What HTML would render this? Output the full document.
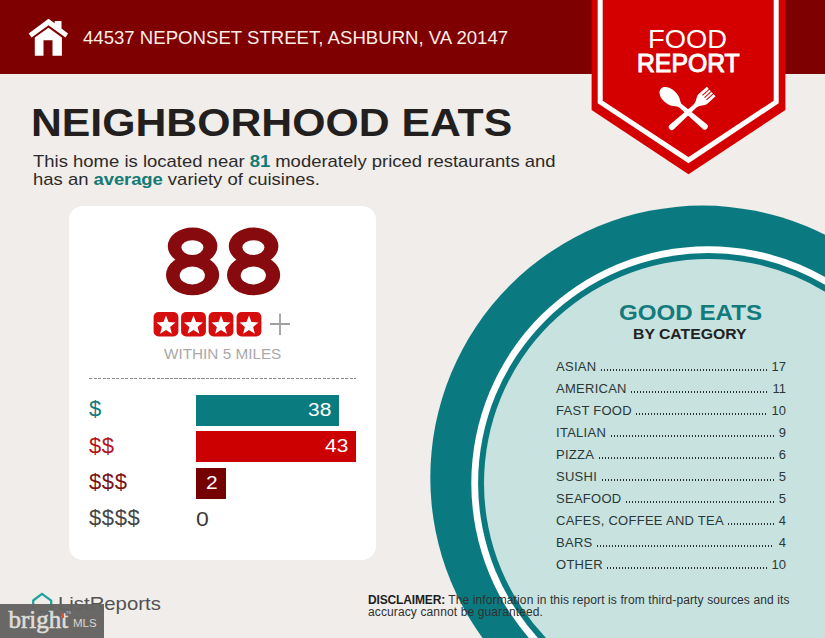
<!DOCTYPE html>
<html><head><meta charset="utf-8">
<style>
html,body{margin:0;padding:0;}
body{width:825px;height:638px;overflow:hidden;position:relative;background:#f0edea;font-family:"Liberation Sans",sans-serif;}
.abs{position:absolute;white-space:nowrap;}
#hdr{position:absolute;left:0;top:0;width:825px;height:74px;background:#7f0000;}
#addr{left:83px;top:27px;font-size:18.6px;color:#fbeee6;transform-origin:0 0;}
#title{left:31px;top:101px;font-size:38.5px;font-weight:bold;color:#231f1e;transform:scaleX(1.11);transform-origin:0 0;}
#sub{left:33px;top:152.5px;font-size:17px;line-height:18.2px;color:#2d2a29;transform:scaleX(1.087);transform-origin:0 0;}
#sub b{color:#137a75;letter-spacing:-0.1px;}
#card{position:absolute;left:69px;top:206px;width:307px;height:354px;background:#fff;border-radius:14px;}
#big{left:163px;top:208px;font-size:95px;font-weight:bold;color:#8a0a0d;transform:scaleX(1.13);transform-origin:0 0;}
#within{left:163.5px;top:345px;font-size:15px;color:#a9a9a9;transform:scaleX(1.02);transform-origin:0 0;}
#dash{position:absolute;left:89px;top:377.5px;width:267px;height:1.6px;background:repeating-linear-gradient(90deg,#8c8c8c 0,#8c8c8c 3px,transparent 3px,transparent 4.5px);}
.bar{position:absolute;left:196px;height:31px;}
.bnum{position:absolute;right:8px;top:4px;font-size:19.2px;color:#fff;transform:scaleX(1.09);transform-origin:100% 0;}
.dl{position:absolute;left:89px;font-size:22px;letter-spacing:0.6px;}
#good{left:619px;top:300px;font-size:22px;font-weight:bold;color:#137b7c;transform:scaleX(1.097);transform-origin:0 0;}
#bycat{left:633px;top:326.2px;font-size:14.5px;font-weight:bold;color:#222;transform:scaleX(1.087);transform-origin:0 0;}
.row{position:absolute;left:556px;width:230px;height:16px;font-size:13px;color:#2b3838;display:flex;align-items:flex-end;}
.row .lab{white-space:nowrap;letter-spacing:0.27px;}
.row .dots{flex:1;margin:0 5px 3.3px 4.5px;height:1.5px;background:repeating-linear-gradient(90deg,#263232 0,#263232 1.4px,transparent 1.4px,transparent 3px);}
.row .val{white-space:nowrap;}
#disc{left:368px;top:593.6px;font-size:12px;line-height:12.2px;color:#303030;letter-spacing:0.12px;}
#disc b{letter-spacing:-0.15px;color:#1e1e1e;}
#lr{left:58px;top:593px;font-size:19px;color:#525252;transform:scaleX(1.07);transform-origin:0 0;}
#bright{position:absolute;left:0;top:604px;width:104px;height:34px;background:rgba(100,99,97,0.97);}
</style></head>
<body>
<div id="hdr"></div>
<!-- house icon -->
<svg class="abs" style="left:0;top:0" width="120" height="74" viewBox="0 0 120 74">
  <polygon fill="#fff" points="28.7,33.5 48.5,18.7 54.7,23.3 54.7,20.9 61.5,20.9 61.5,28.4 68,33.5 65.5,37.4 48.5,25.2 31.6,37.4"/>
  <polygon fill="#fff" points="34.8,37.6 48.5,27.7 61.9,37.4 61.9,55.8 52.5,55.8 52.5,40.3 43.5,40.3 43.5,55.8 34.8,55.8"/>
</svg>
<div id="addr" class="abs">44537 NEPONSET STREET, ASHBURN, VA 20147</div>

<!-- banner -->
<svg class="abs" style="left:0;top:0" width="825" height="200" viewBox="0 0 825 200">
  <polygon points="591.6,0 785.4,0 785.4,110 688.5,174.3 591.6,110" fill="#d40000"/>
  <polyline points="600.2,0 600.2,102 688.5,160.2 776.2,102 776.2,0" fill="none" stroke="#fff" stroke-width="5"/>
</svg>
<div class="abs" style="left:648px;top:24.5px;font-size:25px;color:#fff;transform:scaleX(1.095);transform-origin:0 0;">FOOD</div>
<div id="rep" class="abs" style="left:636.5px;top:48.5px;font-size:25px;color:#fff;-webkit-text-stroke:1px #fff;transform:scaleX(0.99);transform-origin:0 0;">REPORT</div>
<svg class="abs" style="left:655px;top:80px" width="65" height="55" viewBox="0 0 65 55">
  <g fill="#fff">
    <path transform="translate(49.8 46.6) rotate(-139.5)" d="M0,-3 L31,-2.1 C36,-2.1 37,-7.3 46,-7.3 C53,-7.3 58,-4 58,0 C58,4 53,7.3 46,7.3 C37,7.3 36,2.1 31,2.1 L0,3 A3,3 0 0 1 0,-3 Z"/>
    <path transform="translate(16.8 47) rotate(-42)" d="M0,-3 L31,-2.1 C36,-2.1 38,-6.5 42,-6.5 L53,-6.5 L53,6.5 L42,6.5 C38,6.5 36,2.1 31,2.1 L0,3 A3,3 0 0 1 0,-3 Z"/>
  </g>
  <g transform="translate(16.8 47) rotate(-42)" fill="#d40000">
    <rect x="44" y="-3.5" width="10" height="1.0"/>
    <rect x="44" y="-0.5" width="10" height="1.0"/>
    <rect x="44" y="2.5" width="10" height="1.0"/>
  </g>
</svg>

<div id="title" class="abs">NEIGHBORHOOD EATS</div>
<div id="sub" class="abs">This home is located near <b>81</b> moderately priced restaurants and<br>has an <b>average</b> variety of cuisines.</div>

<!-- card -->
<div id="card"></div>
<svg class="abs" style="left:0;top:0" width="300" height="300" viewBox="0 0 300 300">
  <g id="eight">
  <g fill="#860a0e">
    <ellipse cx="192.6" cy="246.2" rx="24.8" ry="18.7"/>
    <ellipse cx="192.6" cy="275.1" rx="26.6" ry="20.2"/>
  </g>
  <g fill="#fff">
    <ellipse cx="192.4" cy="247.6" rx="11" ry="7.4"/>
    <ellipse cx="192.3" cy="275.5" rx="12.6" ry="8.9"/>
  </g>
  </g>
  <use href="#eight" x="61" y="0"/>
</svg>
<svg class="abs" style="left:150px;top:308px" width="150" height="34" viewBox="0 0 150 34">
  <g fill="#d60d0d">
  <rect x="3.6" y="4" width="24.8" height="24.4" rx="5"/>
  <rect x="31.1" y="4" width="24.8" height="24.4" rx="5"/>
  <rect x="58.6" y="4" width="24.8" height="24.4" rx="5"/>
  <rect x="86.6" y="4" width="24.8" height="24.4" rx="5"/>
  </g>
  <g fill="#fff">
   <polygon transform="translate(16 17.6)" points="0.00,-10.00 2.53,-3.48 9.51,-3.09 4.09,1.33 5.88,8.09 0.00,4.30 -5.88,8.09 -4.09,1.33 -9.51,-3.09 -2.53,-3.48"/>
   <polygon transform="translate(43.5 17.6)" points="0.00,-10.00 2.53,-3.48 9.51,-3.09 4.09,1.33 5.88,8.09 0.00,4.30 -5.88,8.09 -4.09,1.33 -9.51,-3.09 -2.53,-3.48"/>
   <polygon transform="translate(71 17.6)" points="0.00,-10.00 2.53,-3.48 9.51,-3.09 4.09,1.33 5.88,8.09 0.00,4.30 -5.88,8.09 -4.09,1.33 -9.51,-3.09 -2.53,-3.48"/>
   <polygon transform="translate(99 17.6)" points="0.00,-10.00 2.53,-3.48 9.51,-3.09 4.09,1.33 5.88,8.09 0.00,4.30 -5.88,8.09 -4.09,1.33 -9.51,-3.09 -2.53,-3.48"/>
  </g>
  <path d="M120 16 H140 M130 5.5 V27" stroke="#a0a0a0" stroke-width="1.8"/>
</svg>
<div id="within" class="abs">WITHIN 5 MILES</div>
<div id="dash"></div>
<div class="bar" style="top:394.5px;width:143px;background:#0a7b7f;"><span class="bnum">38</span></div>
<div class="bar" style="top:431px;width:160px;background:#cc0000;"><span class="bnum">43</span></div>
<div class="bar" style="top:467.5px;width:30px;background:#750000;"><span class="bnum">2</span></div>
<div class="dl abs" style="top:396px;color:#127a7c;">$</div>
<div class="dl abs" style="top:433px;color:#b3131d;">$$</div>
<div class="dl abs" style="top:469px;color:#7a1114;">$$$</div>
<div class="dl abs" style="top:505px;color:#454545;">$$$$</div>
<div class="abs" style="left:196px;top:508px;font-size:19.5px;color:#3b3b3b;transform:scaleX(1.18);transform-origin:0 0;">0</div>

<!-- circle -->
<svg class="abs" style="left:0;top:0" width="825" height="638" viewBox="0 0 825 638">
  <circle cx="702.4" cy="477.7" r="272.1" fill="#0b7a80"/>
  <circle cx="708.3" cy="483.2" r="237" fill="#fff"/>
  <circle cx="708.3" cy="483.2" r="230.2" fill="#0b7a80"/>
  <circle cx="708.3" cy="483.2" r="224.3" fill="#c7e2df"/>
</svg>
<div id="good" class="abs">GOOD EATS</div>
<div id="bycat" class="abs">BY CATEGORY</div>
<div class="row" style="top:358px"><span class="lab">ASIAN</span><span class="dots"></span><span class="val">17</span></div>
<div class="row" style="top:380px"><span class="lab">AMERICAN</span><span class="dots"></span><span class="val">11</span></div>
<div class="row" style="top:402px"><span class="lab">FAST FOOD</span><span class="dots"></span><span class="val">10</span></div>
<div class="row" style="top:424px"><span class="lab">ITALIAN</span><span class="dots"></span><span class="val">9</span></div>
<div class="row" style="top:446px"><span class="lab">PIZZA</span><span class="dots"></span><span class="val">6</span></div>
<div class="row" style="top:468px"><span class="lab">SUSHI</span><span class="dots"></span><span class="val">5</span></div>
<div class="row" style="top:490px"><span class="lab">SEAFOOD</span><span class="dots"></span><span class="val">5</span></div>
<div class="row" style="top:512px"><span class="lab">CAFES, COFFEE AND TEA</span><span class="dots"></span><span class="val">4</span></div>
<div class="row" style="top:534px"><span class="lab">BARS</span><span class="dots"></span><span class="val">4</span></div>
<div class="row" style="top:556px"><span class="lab">OTHER</span><span class="dots"></span><span class="val">10</span></div>

<div id="disc" class="abs"><b>DISCLAIMER:</b> The information in this report is from third-party sources and its<br>accuracy cannot be guaranteed.</div>

<!-- ListReports -->
<svg class="abs" style="left:30px;top:590px" width="26" height="26" viewBox="0 0 26 26">
  <path d="M3.2 10.5 L12 3.8 L21.2 10.7 V22 H3.2 Z" fill="none" stroke="#22a29c" stroke-width="2.3" stroke-linejoin="round"/>
</svg>
<div id="lr" class="abs">ListReports</div>
<div id="bright">
  <div class="abs" style="left:8.5px;top:1.5px;font-family:'Liberation Serif',serif;font-size:25px;color:#dfddd9;-webkit-text-stroke:0.6px #dfddd9;">bright</div>
  <svg class="abs" style="left:57px;top:6px" width="14" height="10" viewBox="0 0 14 10"><path d="M3.5 1 C6 3 7.5 5 7 7.5 L4.5 9 C4 6 4.5 4 3.5 1 Z" fill="#d4502a"/><text x="9" y="4" font-size="4" fill="#ccc" font-family="Liberation Sans">TM</text></svg>
  <div class="abs" style="left:73px;top:12.5px;font-size:11.5px;color:#d8d6d2;">MLS</div>
</div>
</body></html>
